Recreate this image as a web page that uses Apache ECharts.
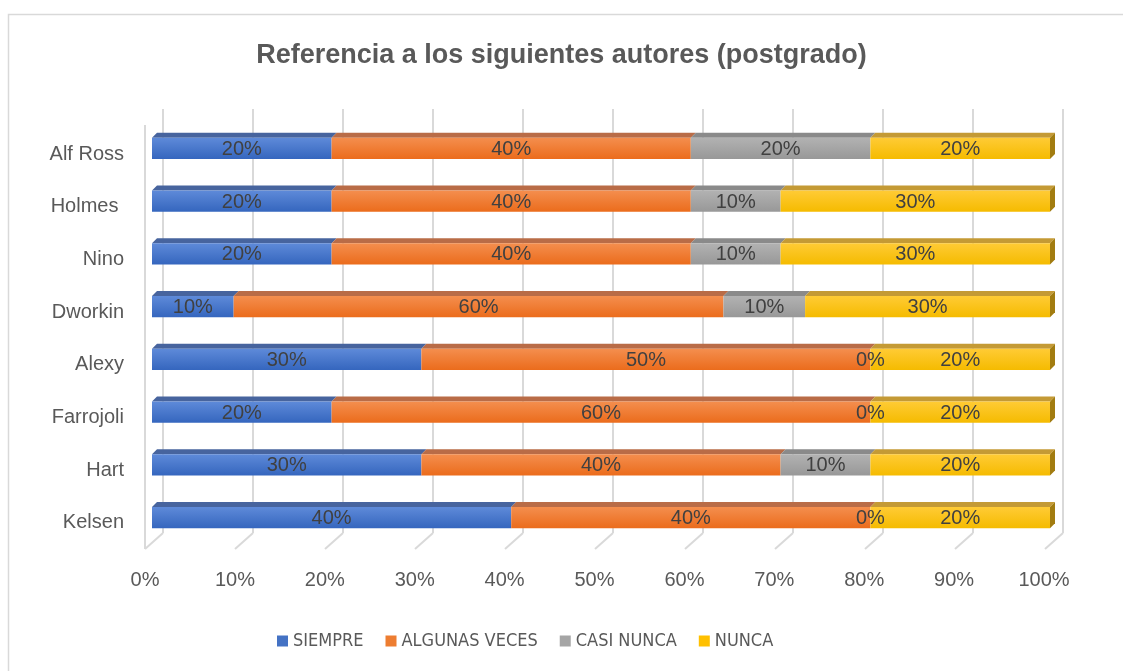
<!DOCTYPE html>
<html>
<head>
<meta charset="utf-8">
<title>Referencia a los siguientes autores (postgrado)</title>
<script src="https://cdn.jsdelivr.net/npm/echarts@6/dist/echarts.min.js"></script>
<style>
  html, body { margin: 0; padding: 0; background: #fff; }
  #chart { width: 1123px; height: 671px; }
</style>
</head>
<body>
<div id="chart"></div>
<script>
// autores, de abajo hacia arriba (como en el eje del gráfico)
const authors = ['Kelsen', 'Hart', 'Farrojoli', 'Alexy', 'Dworkin', 'Nino', 'Holmes ', 'Alf Ross'];
const siempre = [40, 30, 20, 30, 10, 20, 20, 20];
const algunasVeces = [40, 40, 60, 50, 60, 40, 40, 40];
const casiNunca = [0, 10, 0, 0, 10, 10, 10, 20];
const nunca = [20, 20, 20, 20, 30, 30, 30, 20];
const seriesNames = ['SIEMPRE', 'ALGUNAS VECES', 'CASI NUNCA', 'NUNCA'];
const percentTicks = [0, 10, 20, 30, 40, 50, 60, 70, 80, 90, 100];

const palette = [
  { main: '#4472C4', light: '#5E8AD9', dark: '#3566BE', top: '#47649E', side: '#2F4F8A' },
  { main: '#ED7D31', light: '#F48E4E', dark: '#EB6C1C', top: '#B96C47', side: '#A65420' },
  { main: '#A5A5A5', light: '#B2B2B2', dark: '#989898', top: '#8A8A8A', side: '#777777' },
  { main: '#FFC000', light: '#FFCB35', dark: '#F5BB00', top: '#C49A35', side: '#A27C10' }
];

const BAR_DEPTH = 5;     // profundidad 3D de las barras
const FLOOR_DX = 18;     // desplazamiento del suelo (fondo -> frente)
const FLOOR_DY = 16;
const textFont = '"Liberation Sans", Arial, sans-serif';
const narrowFont = '"Liberation Sans Narrow", "DejaVu Sans Condensed", "Liberation Sans", sans-serif';

// apilado al 100%: cada fila se normaliza por su total
const rawSeries = [siempre, algunasVeces, casiNunca, nunca];
const totals = authors.map((_, i) => rawSeries.reduce((s, arr) => s + arr[i], 0));

function stackedData(k) {
  return authors.map((_, i) => {
    let start = 0;
    for (let j = 0; j < k; j++) start += rawSeries[j][i];
    const end = start + rawSeries[k][i];
    return [i, start / totals[i] * 100, end / totals[i] * 100, rawSeries[k][i]];
  });
}

function barRenderer(k) {
  const c = palette[k];
  const isLast = k === rawSeries.length - 1;
  return function (params, api) {
    const cat = api.value(0);
    const a = api.coord([api.value(1), cat]);
    const b = api.coord([api.value(2), cat]);
    const h = api.size([0, 1])[1] * 0.4;
    const top = a[1] - h / 2;
    const bottom = a[1] + h / 2;
    const x0 = a[0], x1 = b[0];
    const children = [
      {
        type: 'polygon',
        shape: { points: [[x0, top], [x0 + BAR_DEPTH, top - BAR_DEPTH], [x1 + BAR_DEPTH, top - BAR_DEPTH], [x1, top]] },
        style: { fill: c.top }
      },
      {
        type: 'rect',
        shape: { x: x0, y: top, width: x1 - x0, height: h },
        style: {
          fill: new echarts.graphic.LinearGradient(0, 0, 0, 1, [
            { offset: 0, color: c.light },
            { offset: 1, color: c.dark }
          ])
        }
      }
    ];
    if (isLast) {
      children.push({
        type: 'polygon',
        shape: { points: [[x1, top], [x1 + BAR_DEPTH, top - BAR_DEPTH], [x1 + BAR_DEPTH, bottom - BAR_DEPTH], [x1, bottom]] },
        style: { fill: c.side }
      });
    }
    children.push({
      type: 'text',
      z2: 100,
      style: {
        text: api.value(3) + '%',
        x: (x0 + x1) / 2,
        y: a[1] + 1,
        align: 'center',
        verticalAlign: 'middle',
        fontFamily: textFont,
        fontSize: 20,
        fill: '#404040'
      }
    });
    return { type: 'group', children };
  };
}

// líneas del suelo 3D y arista izquierda
function floorRenderer(params, api) {
  const v = api.value(0);
  const p = api.coord([v, 0]);
  const lineStyle = { stroke: '#D9D9D9', lineWidth: 2 };
  const children = [{
    type: 'line',
    shape: { x1: p[0], y1: p[1], x2: p[0] - FLOOR_DX, y2: p[1] + FLOOR_DY },
    style: lineStyle
  }];
  if (v === 0) {
    const q = api.coord([0, 1]);
    children.push({
      type: 'line',
      shape: { x1: q[0] - FLOOR_DX, y1: q[1] + FLOOR_DY, x2: p[0] - FLOOR_DX, y2: p[1] + FLOOR_DY },
      style: lineStyle
    });
  }
  return { type: 'group', children };
}

const chart = echarts.init(document.getElementById('chart'));

const barSeries = seriesNames.map((name, k) => ({
  name: name,
  type: 'custom',
  xAxisIndex: 0,
  yAxisIndex: 0,
  renderItem: barRenderer(k),
  itemStyle: { color: palette[k].main },
  encode: { x: [1, 2], y: 0 },
  data: stackedData(k),
  z: 3
}));

chart.setOption({
  animation: false,
  backgroundColor: '#ffffff',
  graphic: [{
    type: 'rect',
    left: 6, top: 12,
    shape: { width: 1200, height: 700 },
    style: { fill: 'none', stroke: '#D9D9D9', lineWidth: 1.5 },
    silent: true
  }],
  title: {
    text: 'Referencia a los siguientes autores (postgrado)',
    left: 'center',
    top: 37,
    textStyle: { fontFamily: textFont, fontSize: 27, fontWeight: 'bold', color: '#595959' }
  },
  legend: {
    data: seriesNames,
    left: 272,
    top: 627,
    icon: 'rect',
    itemWidth: 11,
    itemHeight: 11,
    itemGap: 22,
    textStyle: { fontFamily: narrowFont, fontSize: 18, color: '#595959' }
  },
  grid: [
    { left: 152, top: 122, width: 898, height: 422 },   // barras (plano frontal)
    { left: 163, top: 109, width: 900, height: 424 },   // pared del fondo
    { left: 145, top: 128, width: 899, height: 421 }    // etiquetas de ejes
  ],
  xAxis: [
    { gridIndex: 0, type: 'value', min: 0, max: 100, show: false },
    {
      gridIndex: 1, type: 'value', min: 0, max: 100, interval: 10,
      axisLine: { show: false }, axisTick: { show: false }, axisLabel: { show: false },
      splitLine: { show: true, lineStyle: { color: '#D9D9D9', width: 2 } }
    },
    {
      gridIndex: 2, type: 'value', min: 0, max: 100, interval: 10,
      axisLine: { show: false }, axisTick: { show: false }, splitLine: { show: false },
      axisLabel: { margin: 21, formatter: '{value}%', fontFamily: textFont, fontSize: 20, color: '#595959' }
    }
  ],
  yAxis: [
    { gridIndex: 0, type: 'category', data: authors, show: false },
    { gridIndex: 1, type: 'value', min: 0, max: 1, show: false },
    {
      gridIndex: 2, type: 'category', data: authors,
      axisLine: { show: false }, axisTick: { show: false }, splitLine: { show: false },
      axisLabel: { margin: 21, fontFamily: textFont, fontSize: 20, color: '#595959' }
    }
  ],
  series: [
    {
      type: 'custom',
      xAxisIndex: 1,
      yAxisIndex: 1,
      silent: true,
      renderItem: floorRenderer,
      data: percentTicks.map(v => [v]),
      z: 1
    }
  ].concat(barSeries)
});
</script>
</body>
</html>
